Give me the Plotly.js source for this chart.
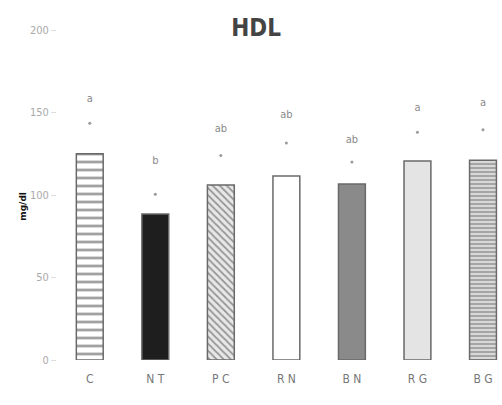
<!DOCTYPE html>
<html><head><meta charset="utf-8">
<script src="https://cdn.plot.ly/plotly-3.0.1.min.js"></script>
<style>html,body{margin:0;padding:0;background:#fff}#chart{width:502px;height:405px}</style>
</head><body><div id="chart"></div>
<script>
const categories = ["C", "NT", "PC", "RN", "BN", "RG", "BG"];
const hdlMeans = [125, 88.5, 106, 111.5, 106.7, 120.6, 121];
const sdTops = [143.5, 100.5, 124, 131.5, 120, 138, 139.5];
const sigLetters = ["a", "b", "ab", "ab", "ab", "a", "a"];
const letterPos = [158, 120.5, 140, 148.5, 133, 152.5, 155.5];
const yTicks = [0, 50, 100, 150, 200];

const fills = ["#ffffff", "#1e1e1e", "#e8e8e8", "#ffffff", "#8a8a8a", "#e4e4e4", "#d8d8d8"];
const patternShapes = ["-", "", "\\", "", "", "", "-"];
const patternFg = ["#d2d2d2", "#1e1e1e", "#555555", "#fff", "#8a8a8a", "#e4e4e4", "#2a2a2a"];
const patternSize = [8, 8, 5, 8, 8, 8, 4];

const bars = {
  type: "bar",
  x: categories,
  y: hdlMeans,
  width: 0.41,
  marker: {
    color: fills,
    line: {color: "#6a6a6a", width: 1.5},
    pattern: {shape: patternShapes, fgcolor: patternFg, bgcolor: fills, size: patternSize, solidity: 0.35, fillmode: "overlay"}
  },
  hoverinfo: "none"
};
const dots = {
  type: "scatter", mode: "markers",
  x: categories, y: sdTops,
  marker: {color: "#9a9a9a", size: 3},
  hoverinfo: "none"
};
const letters = {
  type: "scatter", mode: "text",
  x: categories, y: letterPos, text: sigLetters,
  textfont: {family: "DejaVu Sans Condensed, sans-serif", size: 11, color: "#8a8a8a"},
  hoverinfo: "none"
};

const layout = {
  width: 502, height: 405,
  margin: {l: 57, r: 0, t: 30, b: 45},
  paper_bgcolor: "#fff", plot_bgcolor: "#fff",
  showlegend: false,
  title: {
    text: "HDL", xref: "container", yref: "container", x: 0.51, y: 0.932, xanchor: "center", yanchor: "middle",
    font: {family: "DejaVu Sans Condensed, sans-serif", size: 24, color: "#444", weight: "bold"}
  },
  xaxis: {
    range: [-0.5, 6.29],
    tickvals: categories,
    ticktext: categories.map(c => c.split("").join(" ")),
    showgrid: false, zeroline: false, showline: false, ticks: "",
    ticklabelstandoff: 10,
    tickfont: {family: "DejaVu Sans Condensed, sans-serif", size: 12, color: "#777"}
  },
  yaxis: {
    range: [0, 200],
    tickvals: yTicks,
    showgrid: false, zeroline: false, showline: false,
    ticks: "outside", ticklen: 5, tickcolor: "#dddddd",
    tickfont: {family: "DejaVu Sans Condensed, sans-serif", size: 11, color: "#aaa"}
  },
  annotations: [{
    text: "mg/dl", textangle: -90, xref: "paper", yref: "y", x: -0.094, y: 93,
    showarrow: false, font: {family: "DejaVu Sans, sans-serif", size: 9, color: "#111", weight: "bold"}
  }]
};
Plotly.newPlot("chart", [bars, dots, letters], layout, {displayModeBar: false, staticPlot: true});
</script></body></html>
